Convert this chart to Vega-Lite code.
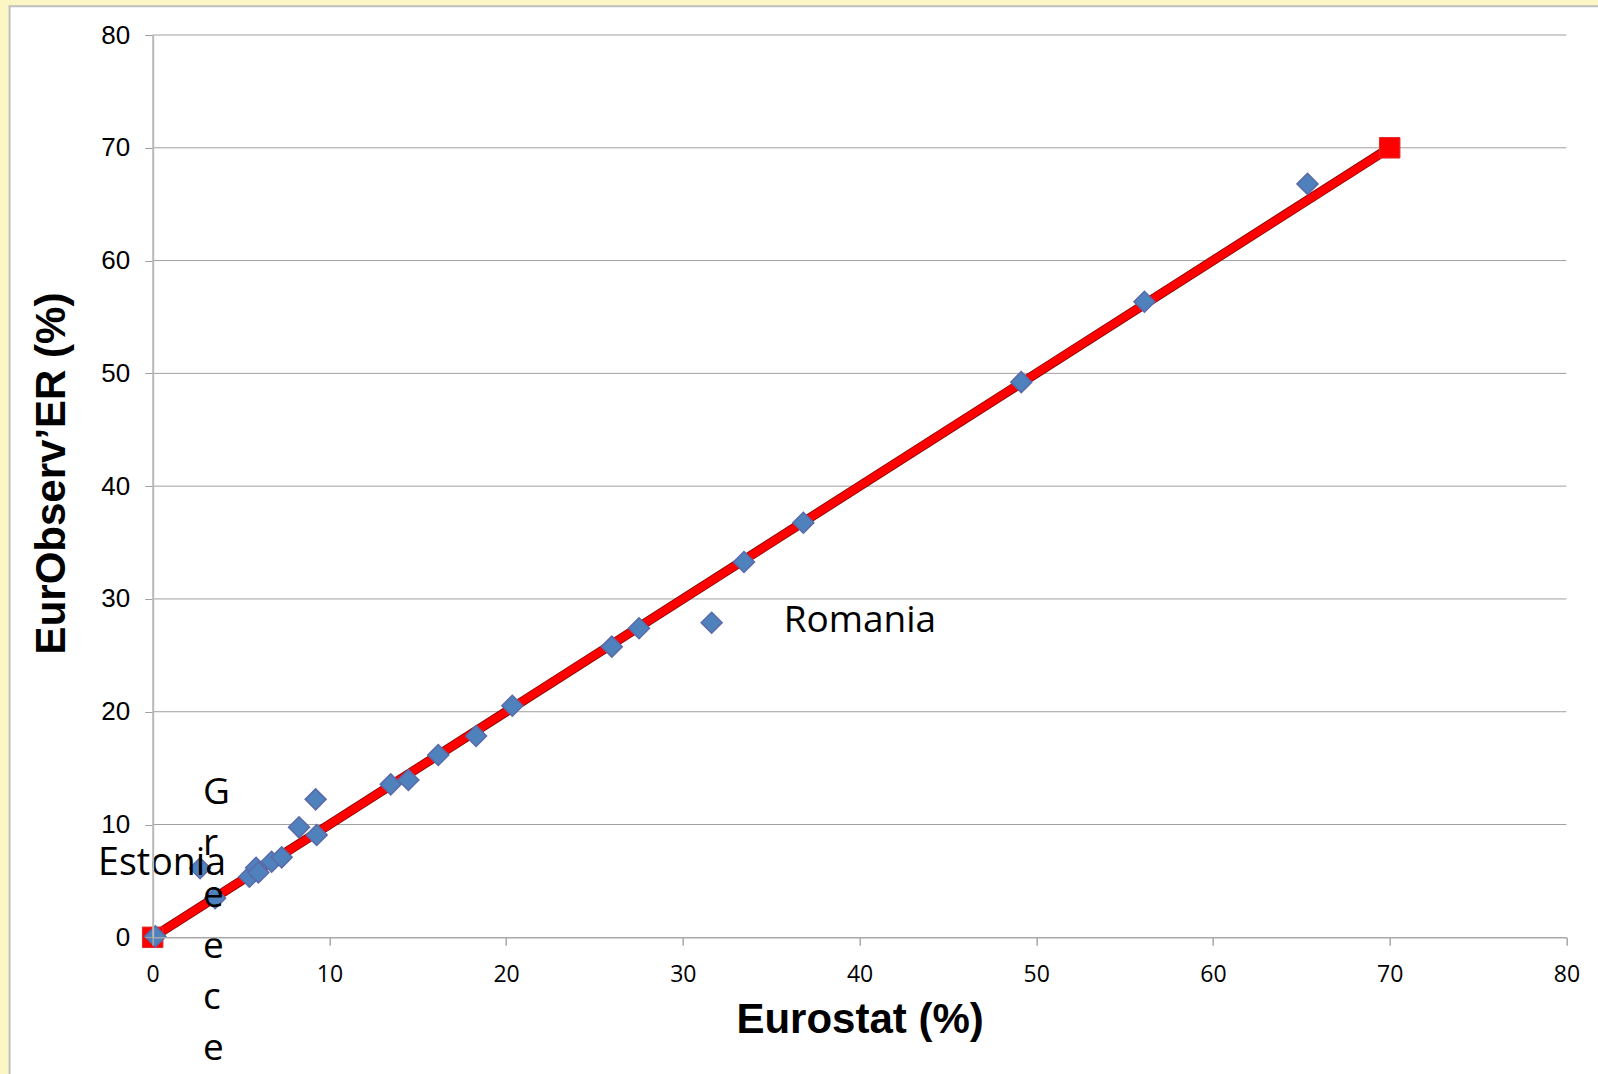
{
  "$schema": "https://vega.github.io/schema/vega-lite/v6.json",
  "autosize": {"type": "none"},
  "width": 1413.7,
  "height": 902.3,
  "padding": {"left": 152.7, "top": 35, "right": 31.6, "bottom": 136.7},
  "background": "#fcf5c4",
  "config": {"view": {"stroke": null}},
  "datasets": {
    "countries": [
      {"eurostat": 0.15, "eurobserver": 0.08, "label": null},
      {"eurostat": 2.68, "eurobserver": 6.12, "label": "Estonia"},
      {"eurostat": 3.53, "eurobserver": 3.46, "label": "Greece"},
      {"eurostat": 5.47, "eurobserver": 5.37, "label": null},
      {"eurostat": 5.85, "eurobserver": 6.17, "label": null},
      {"eurostat": 5.98, "eurobserver": 5.75, "label": null},
      {"eurostat": 6.73, "eurobserver": 6.70, "label": null},
      {"eurostat": 7.30, "eurobserver": 7.09, "label": null},
      {"eurostat": 8.28, "eurobserver": 9.75, "label": null},
      {"eurostat": 9.22, "eurobserver": 12.23, "label": null},
      {"eurostat": 9.28, "eurobserver": 9.07, "label": null},
      {"eurostat": 13.47, "eurobserver": 13.56, "label": null},
      {"eurostat": 14.47, "eurobserver": 13.95, "label": null},
      {"eurostat": 16.16, "eurobserver": 16.16, "label": null},
      {"eurostat": 18.30, "eurobserver": 17.85, "label": null},
      {"eurostat": 20.35, "eurobserver": 20.53, "label": null},
      {"eurostat": 25.98, "eurobserver": 25.77, "label": null},
      {"eurostat": 27.52, "eurobserver": 27.40, "label": null},
      {"eurostat": 31.63, "eurobserver": 27.89, "label": "Romania"},
      {"eurostat": 33.46, "eurobserver": 33.27, "label": null},
      {"eurostat": 36.82, "eurobserver": 36.76, "label": null},
      {"eurostat": 49.15, "eurobserver": 49.22, "label": null},
      {"eurostat": 56.12, "eurobserver": 56.35, "label": null},
      {"eurostat": 65.35, "eurobserver": 66.80, "label": null}
    ],
    "identity": [
      {"eurostat": 0, "eurobserver": 0},
      {"eurostat": 70, "eurobserver": 70}
    ],
    "grid": [
      {"v": 10}, {"v": 20}, {"v": 30}, {"v": 40},
      {"v": 50}, {"v": 60}, {"v": 70}, {"v": 80}
    ],
    "frame": [
      {"x0": -8.1, "x1": 82.5, "y0": -12.5, "y1": 82.55}
    ]
  },
  "layer": [
    {
      "data": {"name": "frame"},
      "mark": {"type": "rect", "fill": "#ffffff", "stroke": "#c0c0c0", "strokeWidth": 2, "clip": false},
      "encoding": {
        "x": {"field": "x0", "type": "quantitative", "scale": {"domain": [0, 80], "nice": false, "zero": false}},
        "x2": {"field": "x1"},
        "y": {"field": "y0", "type": "quantitative", "scale": {"domain": [0, 80], "nice": false, "zero": false}},
        "y2": {"field": "y1"}
      }
    },
    {
      "data": {"name": "grid"},
      "mark": {"type": "rule", "color": "#a0a0a0", "strokeWidth": 1},
      "encoding": {
        "y": {"field": "v", "type": "quantitative"},
        "x": {"datum": 0, "type": "quantitative"},
        "x2": {"datum": 80}
      }
    },
    {
      "data": {"name": "identity"},
      "mark": {"type": "line", "color": "#7a0000", "strokeWidth": 9.5},
      "encoding": {
        "x": {"field": "eurostat", "type": "quantitative"},
        "y": {"field": "eurobserver", "type": "quantitative"}
      }
    },
    {
      "data": {"name": "identity"},
      "mark": {"type": "line", "color": "#ff0000", "strokeWidth": 8},
      "encoding": {
        "x": {"field": "eurostat", "type": "quantitative"},
        "y": {"field": "eurobserver", "type": "quantitative"}
      }
    },
    {
      "data": {"name": "identity"},
      "mark": {"type": "point", "shape": "square", "filled": true, "fill": "#ff0000", "stroke": "#e02a2a", "strokeWidth": 1, "size": 420, "opacity": 1},
      "encoding": {
        "x": {"field": "eurostat", "type": "quantitative"},
        "y": {"field": "eurobserver", "type": "quantitative"}
      }
    },
    {
      "data": {"name": "countries"},
      "mark": {"type": "point", "shape": "diamond", "filled": true, "fill": "#4f81bd", "stroke": "#5b6aa8", "strokeWidth": 1.5, "size": 440, "opacity": 1},
      "encoding": {
        "x": {
          "field": "eurostat",
          "type": "quantitative",
          "axis": {
            "values": [0, 10, 20, 30, 40, 50, 60, 70, 80],
            "grid": false,
            "zindex": 1,
            "domainColor": "#a8a8a8",
            "domainWidth": 1.5,
            "tickColor": "#a8a8a8",
            "tickSize": 8,
            "tickWidth": 1.5,
            "labelFont": "Open Sans",
            "labelFontSize": 23,
            "labelColor": "#000000",
            "labelBaseline": "alphabetic",
            "labelPadding": 36,
            "labelFlush": false,
            "labelOverlap": false,
            "title": "Eurostat (%)",
            "titleFont": "Liberation Sans",
            "titleFontSize": 42,
            "titleFontWeight": "bold",
            "titleColor": "#000000",
            "titleBaseline": "alphabetic",
            "titleY": 95.4
          }
        },
        "y": {
          "field": "eurobserver",
          "type": "quantitative",
          "axis": {
            "values": [0, 10, 20, 30, 40, 50, 60, 70, 80],
            "grid": false,
            "zindex": 1,
            "domainColor": "#b8b8b8",
            "domainWidth": 2,
            "tickColor": "#a0a0a0",
            "tickSize": 8,
            "labelFont": "Liberation Sans",
            "labelFontSize": 26,
            "labelColor": "#000000",
            "labelPadding": 15,
            "labelFlush": false,
            "labelOverlap": false,
            "title": "EurObserv’ER (%)",
            "titleFont": "Liberation Sans",
            "titleFontSize": 42,
            "titleFontWeight": "bold",
            "titleColor": "#000000",
            "titleAngle": 270,
            "titleAlign": "center",
            "titleBaseline": "alphabetic",
            "titleX": -88,
            "titleY": 438
          }
        }
      }
    },
    {
      "data": {"name": "countries"},
      "transform": [{"filter": "datum.label == 'Romania'"}],
      "mark": {"type": "text", "text": "Romania", "font": "Open Sans", "fontSize": 37, "color": "#000000", "align": "left", "baseline": "alphabetic", "dx": 72, "dy": 9},
      "encoding": {
        "x": {"field": "eurostat", "type": "quantitative"},
        "y": {"field": "eurobserver", "type": "quantitative"}
      }
    },
    {
      "data": {"name": "countries"},
      "transform": [{"filter": "datum.label == 'Estonia'"}],
      "mark": {"type": "text", "text": "Estonia", "font": "Open Sans", "fontSize": 37.5, "color": "#000000", "align": "left", "baseline": "alphabetic", "dx": -102, "dy": 7},
      "encoding": {
        "x": {"field": "eurostat", "type": "quantitative"},
        "y": {"field": "eurobserver", "type": "quantitative"}
      }
    },
    {
      "data": {"name": "countries"},
      "transform": [{"filter": "datum.label == 'Greece'"}],
      "mark": {"type": "text", "text": ["G", "r", "e", "e", "c", "e"], "lineHeight": 51.2, "font": "Open Sans", "fontSize": 37, "color": "#000000", "align": "left", "baseline": "alphabetic", "dx": -12, "dy": -94},
      "encoding": {
        "x": {"field": "eurostat", "type": "quantitative"},
        "y": {"field": "eurobserver", "type": "quantitative"}
      }
    }
  ]
}
